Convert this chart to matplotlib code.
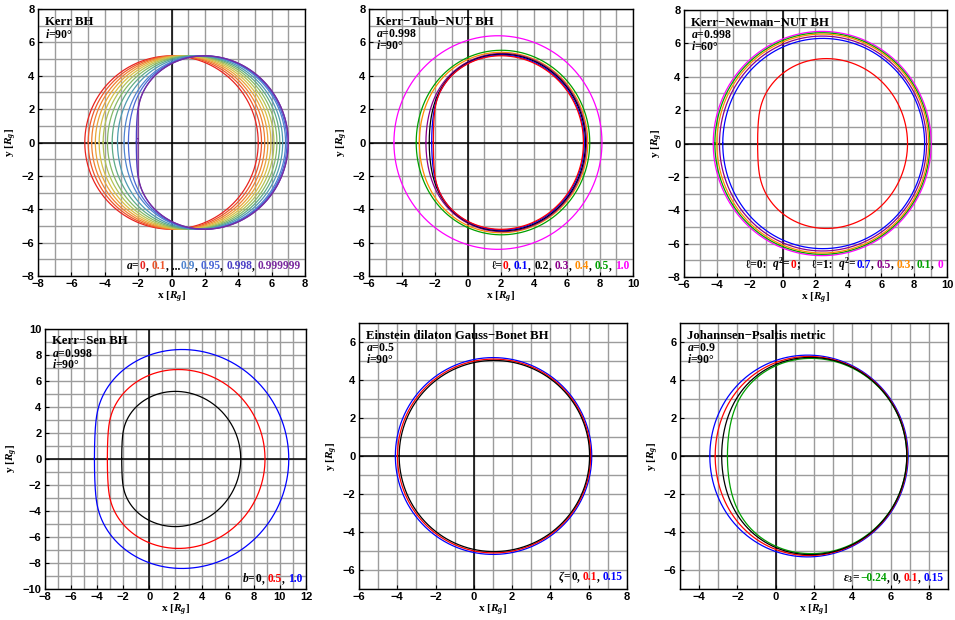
import numpy as np
import matplotlib
matplotlib.use("Agg")
from matplotlib import pyplot as plt
from matplotlib.offsetbox import TextArea, HPacker, AnchoredOffsetbox

plt.rcParams['mathtext.fontset'] = 'custom'
plt.rcParams['mathtext.rm'] = 'Liberation Serif:bold'
plt.rcParams['mathtext.it'] = 'Liberation Serif:italic:bold'
plt.rcParams['mathtext.bf'] = 'Liberation Serif:bold'

SERIF = ['Liberation Serif', 'DejaVu Serif']
SANS = 'Liberation Sans'

RED, BLUE, BLACK = '#ff0000', '#0000ff', '#000000'
PURPLE, ORANGE, GREEN, MAGENTA = '#8b008b', '#ff8c00', '#00a000', '#ff00ff'

# ---------------- data ----------------
# Kerr BH, i = 90 deg : spins from the legend
kerr_spin = [0, 0.1, 0.2, 0.3, 0.4, 0.5, 0.6, 0.7, 0.8, 0.9, 0.95, 0.998, 0.999999]
kerr_colors = ['#e8231f', '#ee552a', '#f07f30', '#eaa43a', '#d8bf45', '#b2c255',
               '#86b966', '#5eab86', '#4e9bb2', '#4f84cf', '#4a67d6', '#4b3fc4', '#7a2a9e']

# Kerr-Taub-NUT, a = 0.998, i = 90 deg  (edges / half height in R_g)
ktn_ell = ['0', '0.1', '0.2', '0.3', '0.4', '0.5', '1.0']
ktn_left = [-2.1, -2.2, -2.35, -2.55, -2.95, -3.14, -4.49]
ktn_right = [7.0, 7.05, 7.12, 7.18, 7.26, 7.38, 8.12]
ktn_top = [5.2, 5.24, 5.29, 5.34, 5.41, 5.53, 6.4]
ktn_shape = [0.998, 0.99, 0.97, 0.93, 0.85, 0.75, 0.3]
ktn_colors = [RED, BLUE, BLACK, PURPLE, ORANGE, GREEN, MAGENTA]

# Kerr-Newman-NUT, a = 0.998, i = 60 deg
knn_label = ['0', '0.7', '0.5', '0.3', '0.1', '0']
knn_left = [-1.52, -3.64, -3.84, -4.0, -4.12, -4.22]
knn_right = [7.6, 8.64, 8.76, 8.88, 8.96, 9.04]
knn_top = [5.09, 6.3, 6.44, 6.56, 6.64, 6.72]
knn_shape = [0.998, 0.7, 0.6, 0.5, 0.45, 0.4]
knn_colors = [RED, BLUE, PURPLE, ORANGE, GREEN, MAGENTA]

# Kerr-Sen, a = 0.998, i = 90 deg
sen_b = ['0', '0.5', '1.0']
sen_left = [-2.12, -3.22, -4.21]
sen_right = [7.0, 8.86, 10.68]
sen_top = [5.2, 6.88, 8.42]
sen_shape = [0.998, 0.998, 0.998]
sen_colors = [BLACK, RED, BLUE]

# Einstein dilaton Gauss-Bonnet, a = 0.5, i = 90 deg
edgb_zeta = ['0', '0.1', '0.15']
edgb_left = [-3.9, -3.99, -4.1]
edgb_right = [6.05, 6.1, 6.16]
edgb_top = [5.03, 5.1, 5.18]
edgb_shape = [0.5, 0.5, 0.5]
edgb_colors = [BLACK, RED, BLUE]

# Johannsen-Psaltis, a = 0.9, i = 90 deg
jp_eps = ['\u22120.24', '0', '0.1', '0.15']
jp_left = [-2.52, -2.82, -3.16, -3.44]
jp_right = [6.85, 6.85, 6.88, 6.92]
jp_top = [5.14, 5.19, 5.24, 5.31]
jp_shape = [0.97, 0.9, 0.8, 0.7]
jp_colors = [GREEN, BLACK, RED, BLUE]

TICK_FS = 8
SUB_FS = 8.5
LEG_FS = 8.3


def kerr_shadow(a, inc_deg):
    inc = np.radians(inc_deg)
    if a < 1e-3:
        t = np.linspace(0, 2 * np.pi, 721)
        R = np.sqrt(27.0)
        return R * np.cos(t), R * np.sin(t)
    r1 = 2 * (1 + np.cos(2 / 3 * np.arccos(-a)))
    r2 = 2 * (1 + np.cos(2 / 3 * np.arccos(a)))
    r = np.linspace(r1, r2, 200001)
    xi = (r**2 * (3 - r) - a**2 * (r + 1)) / (a * (r - 1))
    eta = r**3 * (4 * a**2 - r * (r - 3)**2) / (a**2 * (r - 1)**2)
    al = -xi / np.sin(inc)
    b2 = eta + a**2 * np.cos(inc)**2 - xi**2 / np.tan(inc)**2
    ok = b2 >= 0
    al, be = al[ok], np.sqrt(b2[ok])
    s = np.concatenate([[0], np.cumsum(np.hypot(np.diff(al), np.diff(be)))])
    keep = np.unique(np.clip(np.searchsorted(s, np.linspace(0, s[-1], 900)), 0, len(s) - 1))
    al, be = al[keep], be[keep]
    x = np.concatenate([al, al[::-1], al[:1]])
    y = np.concatenate([be, -be[::-1], be[:1]])
    return x, y


def fitted(x_left, x_right, y_top, a_t, inc):
    al, be = kerr_shadow(a_t, inc)
    x = x_left + (al - al.min()) / (al.max() - al.min()) * (x_right - x_left)
    y = be / be.max() * y_top
    return x, y


def setup(ax, xlim, ylim, xt, yt):
    ax.set_xlim(xlim)
    ax.set_ylim(ylim)
    ax.set_xticks(xt)
    ax.set_yticks(yt)
    ax.set_xticks(np.arange(xlim[0], xlim[1] + 1), minor=True)
    ax.set_yticks(np.arange(ylim[0], ylim[1] + 1), minor=True)
    ax.set_axisbelow(True)
    ax.grid(which='both', color='#9c9c9c', lw=1.0)
    ax.tick_params(which='minor', length=0)
    ax.tick_params(which='major', direction='in', length=3, width=0.8,
                   labelsize=TICK_FS, pad=2.5)
    for lab in ax.get_xticklabels() + ax.get_yticklabels():
        lab.set_fontfamily(SANS)
        lab.set_fontweight('bold')
    ax.axhline(0, color='k', lw=1.1, zorder=1.5)
    ax.axvline(0, color='k', lw=1.1, zorder=1.5)
    for sp in ax.spines.values():
        sp.set_linewidth(1.0)
    ax.set_xlabel(r'x [$R_g$]', fontfamily=SERIF, fontweight='bold', fontsize=8.2, labelpad=0)
    ax.set_ylabel(r'y [$R_g$]', fontfamily=SERIF, fontweight='bold', fontsize=8.2, labelpad=2)


def header(ax, lines):
    ax.text(0.028, 0.975, lines[0], transform=ax.transAxes, va='top', ha='left',
            fontfamily=SERIF, fontweight='bold', fontsize=9.2)
    for k, s in enumerate(lines[1:]):
        ax.text(0.028, 0.905 - k * 0.043, s, transform=ax.transAxes, va='center',
                ha='left', fontfamily=SERIF, fontweight='bold', fontsize=SUB_FS)


def legend(ax, pieces):
    boxes = [TextArea(s, textprops=dict(color=c, fontfamily=SERIF, fontweight='bold',
                                        fontsize=LEG_FS)) for s, c in pieces]
    pack = HPacker(children=boxes, align='baseline', pad=0, sep=0)
    ab = AnchoredOffsetbox(loc='lower right', child=pack, pad=0.1, borderpad=0.25,
                           frameon=False, prop=dict(size=LEG_FS))
    ax.add_artist(ab)


def with_commas(prefix, labels, colors):
    out = [(prefix, BLACK)]
    for k, (s, c) in enumerate(zip(labels, colors)):
        if k:
            out.append((', ', BLACK))
        out.append((s, c))
    return out


fig = plt.figure(figsize=(9.55, 6.2), dpi=100)

# ---- Kerr ----
ax = fig.add_axes([0.0398, 0.5548, 0.2796, 0.4306])
setup(ax, (-8, 8), (-8, 8), range(-8, 9, 2), range(-8, 9, 2))
for a, c in zip(kerr_spin, kerr_colors):
    x, y = kerr_shadow(a, 90)
    ax.plot(x, y, color=c, lw=0.9)
header(ax, ['Kerr BH', r'$i$=90°'])
legend(ax, [(r'$a$=', BLACK), ('0', kerr_colors[0]), (', ', BLACK), ('0.1', kerr_colors[1]),
            (', ...', BLACK), ('0.9', kerr_colors[9]), (', ', BLACK), ('0.95', kerr_colors[10]),
            (', ', BLACK), ('0.998', kerr_colors[11]), (', ', BLACK), ('0.999999', kerr_colors[12])])

# ---- Kerr-Taub-NUT ----
ax = fig.add_axes([0.3864, 0.5548, 0.2764, 0.4306])
setup(ax, (-6, 10), (-8, 8), range(-6, 11, 2), range(-8, 9, 2))
for k in range(len(ktn_ell) - 1, -1, -1):
    x, y = fitted(ktn_left[k], ktn_right[k], ktn_top[k], ktn_shape[k], 90)
    ax.plot(x, y, color=ktn_colors[k], lw=0.9)
header(ax, ['Kerr\u2212Taub\u2212NUT BH', r'$a$=0.998', r'$i$=90°'])
legend(ax, with_commas('\u2113=', ktn_ell, ktn_colors))

# ---- Kerr-Newman-NUT ----
ax = fig.add_axes([0.7162, 0.5532, 0.2754, 0.4306])
setup(ax, (-6, 10), (-8, 8), range(-6, 11, 2), range(-8, 9, 2))
for k in range(len(knn_label) - 1, -1, -1):
    x, y = fitted(knn_left[k], knn_right[k], knn_top[k], knn_shape[k], 60)
    ax.plot(x, y, color=knn_colors[k], lw=0.9)
header(ax, ['Kerr\u2212Newman\u2212NUT BH', r'$a$=0.998', r'$i$=60°'])
legend(ax, [('\u2113=0:  ', BLACK), (r'$q^2$=', BLACK), (knn_label[0], RED), (';    ', BLACK),
            ('\u2113=1:  ', BLACK)] + with_commas(r'$q^2$=', knn_label[1:], knn_colors[1:]))

# ---- Kerr-Sen ----
ax = fig.add_axes([0.0471, 0.0500, 0.2733, 0.4194])
setup(ax, (-8, 12), (-10, 10), range(-8, 13, 2), range(-10, 11, 2))
for k in range(len(sen_b)):
    x, y = fitted(sen_left[k], sen_right[k], sen_top[k], sen_shape[k], 90)
    ax.plot(x, y, color=sen_colors[k], lw=0.9)
header(ax, ['Kerr\u2212Sen BH', r'$a$=0.998', r'$i$=90°'])
legend(ax, with_commas(r'$b$=', sen_b, sen_colors))

# ---- EdGB ----
ax = fig.add_axes([0.3759, 0.0500, 0.2806, 0.4290])
setup(ax, (-6, 8), (-7, 7), range(-6, 9, 2), range(-6, 7, 2))
for k in range(len(edgb_zeta) - 1, -1, -1):
    x, y = fitted(edgb_left[k], edgb_right[k], edgb_top[k], edgb_shape[k], 90)
    ax.plot(x, y, color=edgb_colors[k], lw=0.9)
header(ax, ['Einstein dilaton Gauss\u2212Bonet BH', r'$a$=0.5', r'$i$=90°'])
legend(ax, with_commas(r'$\zeta$=', edgb_zeta, edgb_colors))

# ---- Johannsen-Psaltis ----
ax = fig.add_axes([0.7120, 0.0500, 0.2806, 0.4290])
setup(ax, (-5, 9), (-7, 7), range(-4, 9, 2), range(-6, 7, 2))
for k in [3, 2, 0, 1]:
    x, y = fitted(jp_left[k], jp_right[k], jp_top[k], jp_shape[k], 90)
    ax.plot(x, y, color=jp_colors[k], lw=0.9)
header(ax, ['Johannsen\u2212Psaltis metric', r'$a$=0.9', r'$i$=90°'])
legend(ax, with_commas(r'$\varepsilon_3$=', jp_eps, jp_colors))

fig.savefig('out.png', dpi=100)
